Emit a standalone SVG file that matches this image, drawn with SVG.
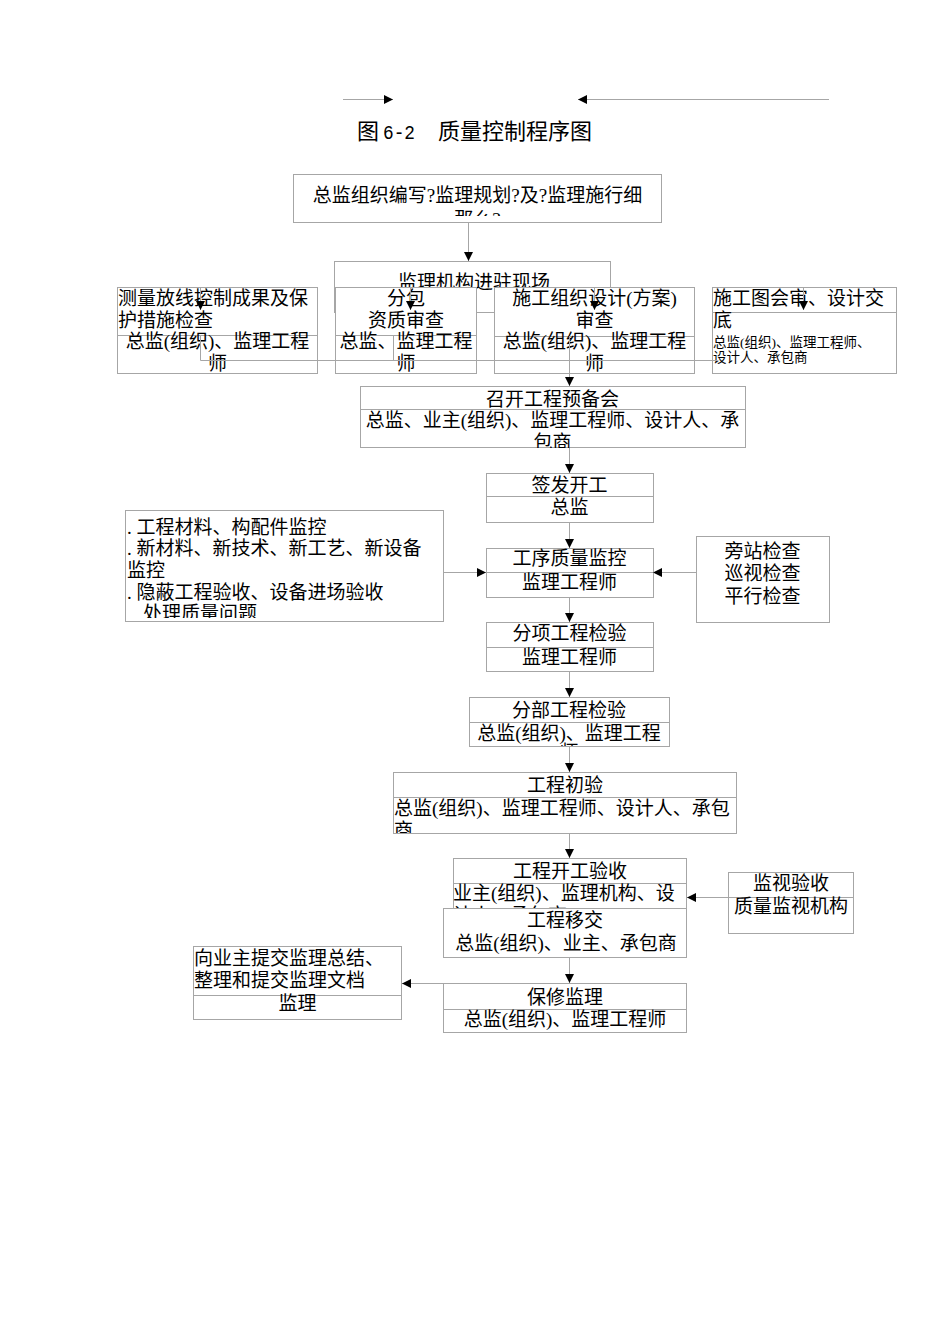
<svg xmlns="http://www.w3.org/2000/svg" width="950" height="1344" viewBox="0 0 950 1344">
<style>
.box{fill:#fff;stroke:#a6a6a6;stroke-width:1}
.ln{stroke:#a6a6a6;stroke-width:1;fill:none}
.ar{stroke:#a6a6a6;stroke-width:1;fill:none;marker-end:url(#ah)}
.t{font-family:"Liberation Serif","Noto Sans CJK SC",serif;font-size:19px;fill:#000}
.c{text-anchor:middle}
.s{font-size:13.5px}
</style>
<defs>
<marker id="ah" markerUnits="userSpaceOnUse" markerWidth="10" markerHeight="10" refX="9" refY="4.5" orient="auto">
<path d="M0,0 L9,4.5 L0,9 z" fill="#000"/>
</marker>
<clipPath id="cp1"><rect x="293" y="174" width="370" height="42"/></clipPath>
<clipPath id="cp7"><rect x="360" y="386" width="386" height="62"/></clipPath>
<clipPath id="cp9"><rect x="125" y="510" width="319" height="108"/></clipPath>
<clipPath id="cp13"><rect x="469" y="697" width="201" height="49"/></clipPath>
<clipPath id="cp14"><rect x="393" y="772" width="345" height="61"/></clipPath>
</defs>

<g id="title">
<text class="t" x="357" y="139" style="font-size:22px">图</text>
<text x="383" y="139" textLength="32" lengthAdjust="spacingAndGlyphs" style="font-family:'Liberation Mono',monospace;font-size:21px;fill:#000">6-2</text>
<text class="t" x="438" y="139" style="font-size:22px">质量控制程序图</text>
</g>

<g id="n1">
<rect class="box" x="293.5" y="174.5" width="368" height="48"/>
<g clip-path="url(#cp1)">
<text class="t c" x="477.5" y="202">总监组织编写?监理规划?及?监理施行细</text>
<text class="t c" x="477.5" y="226">那么?</text>
</g>
</g>

<g id="n2">
<rect class="box" x="334.5" y="261.5" width="276" height="51"/>
<text class="t c" x="474" y="289">监理机构进驻现场</text>
</g>

<g id="n3">
<rect class="box" x="117.5" y="287.5" width="200" height="86"/>
<line class="ln" x1="117" y1="335.5" x2="318" y2="335.5"/>
<text class="t" x="118" y="305">测量放线控制成果及保</text>
<text class="t" x="118" y="327">护措施检查</text>
<text class="t c" x="217.5" y="348">总监(组织)、监理工程</text>
<text class="t c" x="217.5" y="370">师</text>
</g>

<g id="n4">
<rect class="box" x="335.5" y="287.5" width="141" height="86"/>
<line class="ln" x1="335" y1="335.5" x2="477" y2="335.5"/>
<text class="t c" x="406" y="305">分包</text>
<text class="t c" x="406" y="327">资质审查</text>
<text class="t c" x="406" y="348">总监、监理工程</text>
<text class="t c" x="406" y="370">师</text>
</g>

<g id="n5">
<rect class="box" x="494.5" y="287.5" width="200" height="86"/>
<line class="ln" x1="494" y1="336.5" x2="695" y2="336.5"/>
<text class="t c" x="594.5" y="305">施工组织设计(方案)</text>
<text class="t c" x="594.5" y="327">审查</text>
<text class="t c" x="594.5" y="348">总监(组织)、监理工程</text>
<text class="t c" x="594.5" y="370">师</text>
</g>

<g id="n6">
<rect class="box" x="712.5" y="287.5" width="184" height="86"/>
<line class="ln" x1="712" y1="312.5" x2="897" y2="312.5"/>
<text class="t" x="713" y="305">施工图会审、设计交</text>
<text class="t" x="713" y="327">底</text>
<text class="t s" x="713" y="347">总监(组织)、监理工程师、</text>
<text class="t s" x="713" y="362">设计人、承包商</text>
</g>

<g id="n7">
<rect class="box" x="360.5" y="386.5" width="385" height="61"/>
<line class="ln" x1="360" y1="409.5" x2="746" y2="409.5"/>
<g clip-path="url(#cp7)">
<text class="t c" x="552.5" y="406">召开工程预备会</text>
<text class="t c" x="552.5" y="427">总监、业主(组织)、监理工程师、设计人、承</text>
<text class="t c" x="552.5" y="449">包商</text>
</g>
</g>

<g id="n8">
<rect class="box" x="486.5" y="473.5" width="167" height="49"/>
<line class="ln" x1="486" y1="496.5" x2="654" y2="496.5"/>
<text class="t c" x="569.5" y="492">签发开工</text>
<text class="t c" x="569.5" y="514">总监</text>
</g>

<g id="n9">
<rect class="box" x="125.5" y="510.5" width="318" height="111"/>
<g clip-path="url(#cp9)">
<text class="t" x="127" y="534">. 工程材料、构配件监控</text>
<text class="t" x="127" y="555">. 新材料、新技术、新工艺、新设备</text>
<text class="t" x="127" y="577">监控</text>
<text class="t" x="127" y="599">. 隐蔽工程验收、设备进场验收</text>
<text class="t" x="143" y="620">处理质量问题</text>
</g>
</g>

<g id="n10">
<rect class="box" x="486.5" y="548.5" width="167" height="49"/>
<line class="ln" x1="486" y1="572.5" x2="654" y2="572.5"/>
<text class="t c" x="569.5" y="565">工序质量监控</text>
<text class="t c" x="569.5" y="589">监理工程师</text>
</g>

<g id="n11">
<rect class="box" x="696.5" y="536.5" width="133" height="86"/>
<text class="t c" x="762.5" y="558">旁站检查</text>
<text class="t c" x="762.5" y="580">巡视检查</text>
<text class="t c" x="762.5" y="603">平行检查</text>
</g>

<g id="n12">
<rect class="box" x="486.5" y="622.5" width="167" height="49"/>
<line class="ln" x1="486" y1="647.5" x2="654" y2="647.5"/>
<text class="t c" x="569.5" y="640">分项工程检验</text>
<text class="t c" x="569.5" y="664">监理工程师</text>
</g>

<g id="n13">
<rect class="box" x="469.5" y="697.5" width="200" height="49"/>
<line class="ln" x1="469" y1="722.5" x2="670" y2="722.5"/>
<g clip-path="url(#cp13)">
<text class="t c" x="569" y="717">分部工程检验</text>
<text class="t c" x="569" y="740">总监(组织)、监理工程</text>
<text class="t c" x="569" y="759">师</text>
</g>
</g>

<g id="n14">
<rect class="box" x="393.5" y="772.5" width="343" height="61"/>
<line class="ln" x1="393" y1="797.5" x2="737" y2="797.5"/>
<g clip-path="url(#cp14)">
<text class="t c" x="565" y="792">工程初验</text>
<text class="t" x="394" y="815">总监(组织)、监理工程师、设计人、承包</text>
<text class="t" x="394" y="837">商</text>
</g>
</g>

<g id="n15">
<rect class="box" x="453.5" y="858.5" width="233" height="50"/>
<line class="ln" x1="453" y1="883.5" x2="687" y2="883.5"/>
<text class="t c" x="570" y="878">工程开工验收</text>
<text class="t" x="453" y="900">业主(组织)、监理机构、设</text>
<text class="t" x="453" y="922">计人、承包商</text>
</g>

<g id="n16">
<rect class="box" x="443.5" y="908.5" width="243" height="49"/>
<text class="t c" x="565" y="927">工程移交</text>
<text class="t c" x="566" y="950">总监(组织)、业主、承包商</text>
</g>

<g id="n17">
<rect class="box" x="728.5" y="872.5" width="125" height="61"/>
<line class="ln" x1="728" y1="897.5" x2="854" y2="897.5"/>
<text class="t c" x="791" y="890">监视验收</text>
<text class="t c" x="791" y="913">质量监视机构</text>
</g>

<g id="n18">
<rect class="box" x="443.5" y="983.5" width="243" height="49"/>
<line class="ln" x1="443" y1="1009.5" x2="687" y2="1009.5"/>
<text class="t c" x="565" y="1004">保修监理</text>
<text class="t c" x="565" y="1026">总监(组织)、监理工程师</text>
</g>

<g id="n19">
<rect class="box" x="193.5" y="946.5" width="208" height="73"/>
<line class="ln" x1="193" y1="995.5" x2="402" y2="995.5"/>
<text class="t" x="194" y="965">向业主提交监理总结、</text>
<text class="t" x="194" y="987">整理和提交监理文档</text>
<text class="t c" x="297.5" y="1010">监理</text>
</g>

<g id="connectors">
<line class="ar" x1="343" y1="99.5" x2="393" y2="99.5"/>
<line class="ar" x1="829" y1="99.5" x2="578" y2="99.5"/>
<line class="ar" x1="468.5" y1="223" x2="468.5" y2="261"/>
<line class="ar" x1="200.5" y1="288" x2="200.5" y2="310"/>
<line class="ar" x1="410.5" y1="288" x2="410.5" y2="310"/>
<line class="ar" x1="594.5" y1="288" x2="594.5" y2="310"/>
<line class="ar" x1="803.5" y1="288" x2="803.5" y2="310"/>
<polyline class="ln" points="200.5,335 200.5,360.5 717,360.5"/>
<line class="ln" x1="393.5" y1="335" x2="393.5" y2="360.5"/>
<line class="ar" x1="569.5" y1="336" x2="569.5" y2="386"/>
<line class="ar" x1="569.5" y1="448" x2="569.5" y2="473"/>
<line class="ar" x1="569.5" y1="522" x2="569.5" y2="548"/>
<line class="ar" x1="443" y1="572.5" x2="486" y2="572.5"/>
<line class="ar" x1="696" y1="572.5" x2="653" y2="572.5"/>
<line class="ar" x1="569.5" y1="597" x2="569.5" y2="622"/>
<line class="ar" x1="569.5" y1="672" x2="569.5" y2="697"/>
<line class="ar" x1="569.5" y1="746" x2="569.5" y2="772"/>
<line class="ar" x1="569.5" y1="833" x2="569.5" y2="858"/>
<line class="ar" x1="728" y1="897.5" x2="687" y2="897.5"/>
<line class="ar" x1="569.5" y1="958" x2="569.5" y2="983"/>
<line class="ar" x1="443" y1="983.5" x2="402" y2="983.5"/>
</g>
</svg>
